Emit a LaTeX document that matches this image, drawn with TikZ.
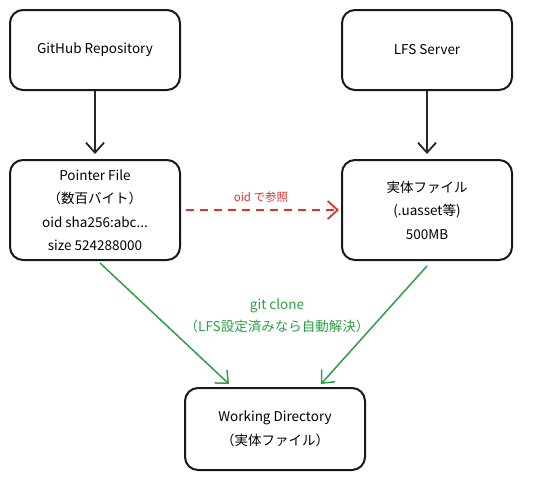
\documentclass[tikz,border=0pt]{standalone}
\usepackage{fontspec}
\setmainfont{Noto Sans CJK JP}
\usepackage{xcolor}
\usetikzlibrary{arrows.meta}
\definecolor{refred}{HTML}{E03131}
\definecolor{clonegreen}{HTML}{2F9E44}

\begin{document}
\begin{tikzpicture}[
    x=1pt,y=-1pt,
    >={Straight Barb[length=10pt,width=18pt]},
    box/.style={draw=black!90,line width=2pt,rounded corners=13pt,
      minimum width=170pt,minimum height=80pt,align=center,
      font=\fontsize{13.5}{23.5}\selectfont},
    flow/.style={->,line width=1.8pt,draw=black!85},
    lookup/.style={->,line width=1.8pt,dash pattern=on 8pt off 6pt,draw=refred},
    clone/.style={->,line width=1.5pt,draw=clonegreen},
    tag/.style={align=center,font=\fontsize{13.5}{22}\selectfont}
  ]
    \useasboundingbox (0,0) rectangle (550,480);

    \node[box] (repo) at (95,50) {GitHub Repository};
    \node[box] (lfs) at (427,50) {LFS Server};
    \node[box,minimum height=100pt] (ptr) at (95,210)
      {Pointer File\\（数百バイト）\\oid sha256:abc...\\size 524288000};
    \node[box,minimum height=100pt] (real) at (427,210)
      {実体ファイル\\(.uasset等)\\500MB};
    \node[box,minimum width=180pt,minimum height=82pt] (wd) at (275,429)
      {Working Directory\\（実体ファイル）};

    \draw[flow,shorten >=5pt] (repo) -- (ptr);
    \draw[flow,shorten >=5pt] (lfs) -- (real);

    \draw[lookup,shorten <=5pt,shorten >=2pt] (ptr) -- (real)
      node[midway,above=3pt,font=\fontsize{11.5}{12}\selectfont,text=refred] (reflabel) {oid で参照};

    \node[tag,text=clonegreen] (clonelabel) at (277,316)
      {git clone\\（LFS設定済みなら自動解決）};
    \draw[clone] ([xshift=5pt,yshift=-2pt]ptr.south) -- ([xshift=45pt,yshift=3pt]wd.north west);
    \draw[clone] ([yshift=-5pt]real.south) -- ([xshift=-45pt,yshift=3pt]wd.north east);
  \end{tikzpicture}
\end{document}
